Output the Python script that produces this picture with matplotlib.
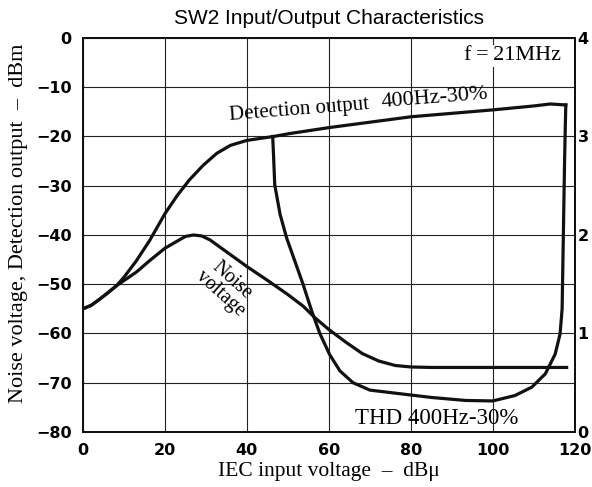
import matplotlib
matplotlib.use("Agg")
import matplotlib.pyplot as plt

# ---- data ----
det_x = [0, 2, 4, 6, 8.2, 10, 13, 16.3, 20, 23, 26, 29.4, 32.7, 36, 40, 44, 46.5, 50.5,
         60, 70, 80, 90, 100, 110, 114, 117.8]
det_y = [-55, -54.3, -53.1, -51.8, -50.3, -48.6, -45.3, -41.1, -35.7, -32, -28.8, -25.8, -23.4,
         -21.8, -20.8, -20.3, -20, -19.4, -18.2, -17.1, -16, -15.3, -14.6, -13.8, -13.4, -13.6]

noise_x = [0, 2, 4, 6, 8.2, 13.1, 16.3, 20, 22.9, 25, 27, 29, 31, 34, 37, 40, 45, 50, 53.8,
           56.6, 60, 64.2, 68.2, 72.2, 76.2, 80, 85, 118]
noise_y = [-55, -54.3, -53.1, -51.8, -50.3, -47.5, -45.2, -42.7, -41.3, -40.3, -40, -40.2, -41,
           -42.8, -44.6, -46.4, -49.2, -52.1, -54.5, -56.8, -59.2, -61.8, -64.1, -65.6, -66.5,
           -66.8, -66.9, -66.9]

# THD in percent (right axis)
thd_x = [46.3, 46.5, 46.8, 48.1, 49.7, 51.7, 53.7, 55.8, 57.8, 60.2, 62.7, 65.9, 70, 77, 85.1,
         93.3, 100, 105.4, 109.5, 112.8, 115.2, 116.4, 116.9, 117.1, 117.3, 117.5, 117.7, 117.8]
thd_pct = [3.0, 2.815, 2.51, 2.21, 1.97, 1.735, 1.5, 1.23, 1.0, 0.785, 0.62, 0.5, 0.425, 0.39,
           0.35, 0.32, 0.315, 0.37, 0.455, 0.59, 0.79, 0.995, 1.25, 1.75, 2.25, 2.75, 3.15, 3.32]

x_ticks = [0, 20, 40, 60, 80, 100, 120]
y_ticks = [0, -10, -20, -30, -40, -50, -60, -70, -80]
y_ticklabels = ["0", "\u221210", "\u221220", "\u221230", "\u221240", "\u221250", "\u221260", "\u221270", "\u221280"]
r_ticks = [0, 1, 2, 3, 4]

title = "SW2 Input/Output Characteristics"
xlabel = "IEC input voltage  \u2013  dB\u03bc"
ylabel = "Noise voltage, Detection output  \u2013  dBm"

serif = "Liberation Serif"
tick_family = "DejaVu Sans"
tick_size = 11.5

fig = plt.figure(figsize=(5.92, 4.87), dpi=100)
ax = fig.add_axes([0.140, 0.113, 0.831, 0.809])

ax.set_xlim(0, 120)
ax.set_ylim(-80, 0)
ax.set_xticks(x_ticks)
ax.set_yticks(y_ticks)
ax.set_yticklabels(y_ticklabels)
ax.tick_params(length=0, pad=8)
for lab in ax.get_xticklabels() + ax.get_yticklabels():
    lab.set_fontfamily(tick_family)
    lab.set_fontweight("bold")
    lab.set_fontsize(tick_size)
ax.grid(True, color="#222222", lw=0.8)
for s in ax.spines.values():
    s.set_linewidth(1.4)
    s.set_color("#111111")

lw = 2.3
ax.plot(det_x, det_y, color="#111111", lw=lw, solid_joinstyle="round", zorder=3)
ax.plot(noise_x, noise_y, color="#111111", lw=lw, solid_joinstyle="round", zorder=3)

ax2 = ax.twinx()
ax2.set_ylim(0, 4)
ax2.set_yticks(r_ticks)
ax2.tick_params(length=0, pad=2)
for lab in ax2.get_yticklabels():
    lab.set_fontfamily(tick_family)
    lab.set_fontweight("bold")
    lab.set_fontsize(tick_size)
ax2.plot(thd_x, thd_pct, color="#111111", lw=lw, solid_joinstyle="round", zorder=3)
for s in ax2.spines.values():
    s.set_linewidth(1.4)
    s.set_color("#111111")

ax.set_title(title, family="Liberation Sans", fontsize=15, pad=10)
ax.set_xlabel(xlabel, family=serif, fontsize=15.5, labelpad=3)
ax.set_ylabel(ylabel, family=serif, fontsize=16, labelpad=6)
ax.yaxis.set_label_coords(-0.112, 0.53)

ax.text(52.7, -14.6, "Detection output", family=serif, fontsize=15, rotation=4.5,
        ha="center", va="center")
ax.text(85.9, -12.3, "400Hz-30%", family=serif, fontsize=16, rotation=4.5,
        ha="center", va="center")
ax.text(104.9, -3.6, "f\u2009=\u200921MHz", family=[serif, "DejaVu Sans"], fontsize=16,
        ha="center", va="center", bbox=dict(facecolor="white", edgecolor="none", pad=1))
ax.text(35.0, -50.6, "Noise\nvoltage", family=serif, fontsize=14.5, rotation=-42,
        ha="center", va="center", linespacing=0.9)
ax.text(86.3, -77.2, "THD 400Hz-30%", family=serif, fontsize=16.5, ha="center", va="center")

fig.savefig("out.png", dpi=100)
